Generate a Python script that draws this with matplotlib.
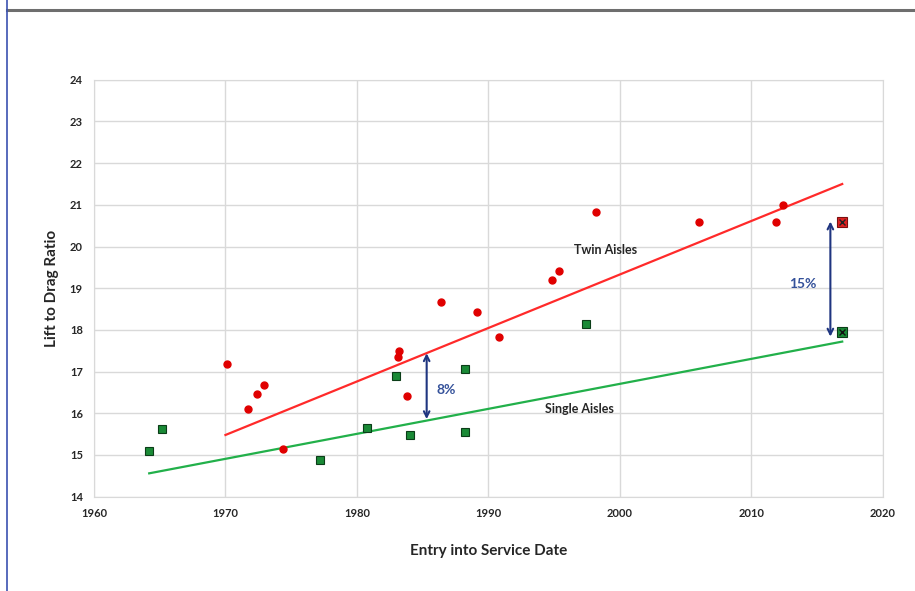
import matplotlib.pyplot as plt
from matplotlib.lines import Line2D

plt.rcParams['font.family'] = ['Lato', 'DejaVu Sans']

# twin aisle aircraft (red dots)
twin_year = [1970.1, 1971.7, 1972.4, 1972.9, 1974.4, 1983.1, 1983.2, 1983.8, 1986.4,
             1989.1, 1990.8, 1994.8, 1995.4, 1998.2, 2006.0, 2011.9, 2012.4]
twin_ld = [17.18, 16.10, 16.46, 16.68, 15.15, 17.36, 17.50, 16.42, 18.66,
           18.42, 17.84, 19.20, 19.42, 20.84, 20.60, 20.60, 21.00]

# single aisle aircraft (green squares)
single_year = [1964.2, 1965.2, 1977.2, 1980.8, 1983.0, 1984.0, 1988.2, 1988.2, 1997.4]
single_ld = [15.10, 15.62, 14.88, 15.64, 16.90, 15.48, 17.06, 15.55, 18.14]

# projected 2017 aircraft
new_year = [2016.9]
new_twin_ld = [20.58]
new_single_ld = [17.94]

# trend lines (end points)
twin_trend_year = [1970.0, 2016.9]
twin_trend_ld = [15.48, 21.50]
single_trend_year = [1964.2, 2016.9]
single_trend_ld = [14.56, 17.72]

# gap arrows
gap_year = [1985.3, 2016.0]
gap_top = [17.44, 20.60]
gap_bottom = [15.86, 17.84]
gap_label = ['8%', '15%']

fig = plt.figure(figsize=(9.15, 5.91), dpi=100)
ax = fig.add_axes([0.1027, 0.1596, 0.8623, 0.7054])

ax.plot(twin_trend_year, twin_trend_ld, color='#ff2a2a', lw=1.6, zorder=2)
ax.plot(single_trend_year, single_trend_ld, color='#22b04a', lw=1.6, zorder=2)

ax.plot(twin_year, twin_ld, 'o', color='#e00000', ms=5, mec='#e00000', zorder=3)
ax.plot(single_year, single_ld, 's', color='#1a8a36', ms=5.5, mec='#0b3d18', mew=0.8, zorder=3)

ax.plot(new_year, new_twin_ld, 's', color='#e02020', ms=7, mec='#7a1010', mew=0.8, zorder=3)
ax.plot(new_year, new_twin_ld, 'x', color='#222222', ms=4.5, mew=1.0, zorder=4)
ax.plot(new_year, new_single_ld, 's', color='#1a8a36', ms=7, mec='#0b3d18', mew=0.8, zorder=3)
ax.plot(new_year, new_single_ld, 'x', color='#111111', ms=4.5, mew=1.0, zorder=4)

for x, top, bot in zip(gap_year, gap_top, gap_bottom):
    ax.annotate('', xy=(x, top), xytext=(x, bot),
                arrowprops=dict(arrowstyle='<->', color='#1f3580', lw=1.5,
                                shrinkA=0, shrinkB=0, mutation_scale=10))
ax.text(1986.8, 16.56, gap_label[0], color='#34519a', fontsize=10,
        fontweight='bold', ha='center', va='center')
ax.text(2013.9, 19.1, gap_label[1], color='#34519a', fontsize=10,
        fontweight='bold', ha='center', va='center')

ax.text(1998.9, 19.92, 'Twin Aisles', fontsize=9, fontweight='bold',
        color='#262626', ha='center', va='center')
ax.text(1996.9, 16.1, 'Single Aisles', fontsize=9, fontweight='bold',
        color='#262626', ha='center', va='center')

ax.set_xlim(1960, 2020)
ax.set_ylim(14, 24)
ax.set_xticks(range(1960, 2021, 10))
ax.set_yticks(range(14, 25))
ax.grid(True, color='#d9d9d9', lw=1)
ax.set_axisbelow(True)
for s in ax.spines.values():
    s.set_color('#d9d9d9')
ax.tick_params(length=0, labelsize=8, pad=8, colors='#262626')
for lbl in ax.get_xticklabels() + ax.get_yticklabels():
    lbl.set_fontweight('bold')

ax.set_xlabel('Entry into Service Date', fontsize=11, fontweight='bold',
              color='#262626', labelpad=18)
ax.set_ylabel('Lift to Drag Ratio', fontsize=11, fontweight='bold',
              color='#262626', labelpad=8)

# slide frame lines
fig.add_artist(Line2D([0.008, 1.0], [0.983, 0.983], color='#6e6e6e', lw=2.2))
fig.add_artist(Line2D([0.008, 0.008], [0.0, 1.0], color='#3b52b0', lw=1.2))

fig.savefig('out.png', dpi=100)
